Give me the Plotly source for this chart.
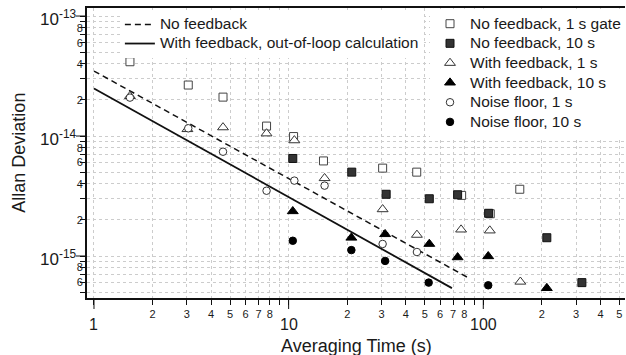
import math
import plotly.graph_objects as go

# ---------------- data ----------------
nofb_1s_t = [1.53, 3.05, 4.6, 7.7, 10.6, 15.1, 30.4, 45.5, 77.4, 108.6, 154]
nofb_1s = [4.16e-14, 2.66e-14, 2.11e-14, 1.21e-14, 9.9e-15, 6.2e-15, 5.4e-15, 5.0e-15, 3.2e-15, 2.25e-15, 3.6e-15]

nofb_10s_t = [10.5, 21.1, 31.7, 52.8, 73.8, 106.5, 212, 321]
nofb_10s = [6.5e-15, 5.0e-15, 3.27e-15, 3.0e-15, 3.24e-15, 2.27e-15, 1.42e-15, 6.0e-16]

fb_1s_t = [1.53, 3.02, 4.6, 7.7, 10.7, 15.3, 30.4, 45.6, 76.9, 108, 155]
fb_1s = [2.15e-14, 1.14e-14, 1.18e-14, 1.05e-14, 9.2e-15, 4.45e-15, 2.45e-15, 1.5e-15, 1.66e-15, 1.63e-15, 6.1e-16]

fb_10s_t = [10.5, 21.0, 31.3, 52.8, 73.8, 106, 212]
fb_10s = [2.36e-15, 1.42e-15, 1.52e-15, 1.26e-15, 0.975e-15, 0.995e-15, 5.4e-16]

nf_1s_t = [1.53, 3.05, 4.6, 7.7, 10.7, 15.3, 30.4, 45.6]
nf_1s = [2.09e-14, 1.16e-14, 7.4e-15, 3.5e-15, 4.25e-15, 3.86e-15, 1.26e-15, 1.08e-15]

nf_10s_t = [10.5, 21.0, 31.3, 52.4, 106]
nf_10s = [1.34e-15, 1.12e-15, 9.1e-16, 6.0e-16, 5.7e-16]

line_nofb_t = [1, 85]
line_nofb = [3.48e-14, 6.5e-16]
line_fb_t = [1, 69]
line_fb = [2.49e-14, 5.4e-16]

# tick labels
x_decades = [1, 10, 100]
x_major_labels = ["1", "10", "100"]
x_minor_labels = {2: "2", 3: "3", 4: "4", 5: "5", 6: "6", 7: "7", 8: "8"}
y_decades = [1e-15, 1e-14, 1e-13]
y_major_labels = ["10<sup>-15</sup>", "10<sup>-14</sup>", "10<sup>-13</sup>"]
y_minor_labels = {2: "2", 4: "4", 6: "6", 8: "8"}

# ---------------- axes setup ----------------
XR = [-0.0359, 2.728]
YR = [-15.35, -12.933]

xtickvals, xticktext = [], []
for d in [1, 10, 100]:
    for m in range(1, 10):
        v = m * d
        if v <= 500:
            xtickvals.append(v)
            xticktext.append(x_minor_labels.get(m, ""))

ytickvals, yticktext = [], []
for d in [1e-16, 1e-15, 1e-14, 1e-13]:
    for m in range(1, 10):
        v = m * d
        lv = math.log10(v)
        if YR[0] <= lv <= YR[1]:
            ytickvals.append(v)
            yticktext.append(y_minor_labels.get(m, ""))

FONT = "Liberation Sans, Arial, Helvetica, sans-serif"
TXT = "#1a1a1a"
LEG_TEXT = 15.5      # visible text size


def lname(s):
    return '<span style="font-size:%spx">%s</span>' % (LEG_TEXT, s)


fig = go.Figure()

fig.add_trace(go.Scatter(x=line_nofb_t, y=line_nofb, mode="lines", name=lname("No feedback"),
                         line=dict(color="#111", width=1.5, dash="6px,4px"), legend="legend"))
fig.add_trace(go.Scatter(x=line_fb_t, y=line_fb, mode="lines",
                         name=lname("With feedback, out-of-loop calculation"),
                         line=dict(color="#111", width=1.8), legend="legend"))


def mk(t, v, name, symbol, color, size, lc):
    fig.add_trace(go.Scatter(x=t, y=v, mode="markers", name=lname(name), legend="legend2",
                             marker=dict(symbol=symbol, size=size, color=color,
                                         line=dict(color=lc, width=1))))


mk(nofb_1s_t, nofb_1s, "No feedback, 1 s gate", "square", "white", 8, "#444")
mk(nofb_10s_t, nofb_10s, "No feedback, 10 s", "square", "#333", 8, "#111")
mk(fb_1s_t, fb_1s, "With feedback, 1 s", "triangle-up", "white", 9.5, "#333")
mk(fb_10s_t, fb_10s, "With feedback, 10 s", "triangle-up", "#000", 9.5, "#000")
mk(nf_1s_t, nf_1s, "Noise floor, 1 s", "circle", "white", 7.5, "#333")
mk(nf_10s_t, nf_10s, "Noise floor, 10 s", "circle", "#000", 7.5, "#000")

grid = dict(showgrid=True, gridcolor="#cccccc", gridwidth=1, griddash="dot")

fig.update_xaxes(type="log", range=XR, tickmode="array", tickvals=xtickvals, ticktext=xticktext,
                 ticks="outside", ticklen=5, tickwidth=1, tickcolor="#111",
                 showline=True, linecolor="#111", linewidth=2, mirror=True,
                 tickfont=dict(family=FONT, size=11, color=TXT), zeroline=False, **grid)
fig.update_yaxes(type="log", range=YR, tickmode="array", tickvals=ytickvals, ticktext=yticktext,
                 ticks="outside", ticklen=5, tickwidth=1, tickcolor="#111",
                 showline=True, linecolor="#111", linewidth=2, mirror=False,
                 ticklabelstandoff=-5,
                 tickfont=dict(family=FONT, size=11, color=TXT), zeroline=False, **grid)

shapes = []
annotations = []
for v, lab in zip(x_decades, x_major_labels):
    px = (math.log10(v) - XR[0]) / (XR[1] - XR[0])
    shapes.append(dict(type="line", xref="paper", yref="paper", ysizemode="pixel", yanchor=0,
                       x0=px, x1=px, y0=-1, y1=-11, line=dict(color="#111", width=1)))
    annotations.append(dict(text=lab, xref="x", yref="paper", x=math.log10(v), y=-0.09,
                            xanchor="center", yanchor="middle", showarrow=False,
                            font=dict(family=FONT, size=16, color=TXT)))
for v, lab in zip(y_decades, y_major_labels):
    py = (math.log10(v) - YR[0]) / (YR[1] - YR[0])
    shapes.append(dict(type="line", xref="paper", yref="paper", xsizemode="pixel", xanchor=0,
                       x0=-1, x1=-11, y0=py, y1=py, line=dict(color="#111", width=1)))
    annotations.append(dict(text=lab, xref="paper", yref="y", x=0, xshift=-9, y=math.log10(v),
                            yshift=-2, xanchor="right", yanchor="middle", showarrow=False,
                            font=dict(family=FONT, size=17, color=TXT)))

annotations.append(dict(text="Averaging Time (s)", xref="paper", yref="paper", x=0.5, y=-0.165,
                        xanchor="center", yanchor="middle", showarrow=False,
                        font=dict(family=FONT, size=18, color=TXT)))
annotations.append(dict(text="Allan Deviation", xref="paper", yref="paper", x=-0.127, y=0.5,
                        xanchor="center", yanchor="middle", textangle=-90, showarrow=False,
                        font=dict(family=FONT, size=18, color=TXT)))

fig.update_layout(
    width=626, height=355,
    margin=dict(l=87, r=0, t=8, b=57),
    paper_bgcolor="white", plot_bgcolor="white",
    shapes=shapes, annotations=annotations,
    showlegend=True,
    legend=dict(x=0.061, y=0.993, xanchor="left", yanchor="top", bgcolor="white",
                borderwidth=0, tracegroupgap=0,
                font=dict(family=FONT, size=12.0, color=TXT)),
    legend2=dict(x=0.637, y=0.997, xanchor="left", yanchor="top", bgcolor="white",
                 borderwidth=0, tracegroupgap=0,
                 font=dict(family=FONT, size=12.8, color=TXT)),
)

fig.write_html("out.html", config={"displayModeBar": False},
               post_script="document.body.style.margin='0px';")
